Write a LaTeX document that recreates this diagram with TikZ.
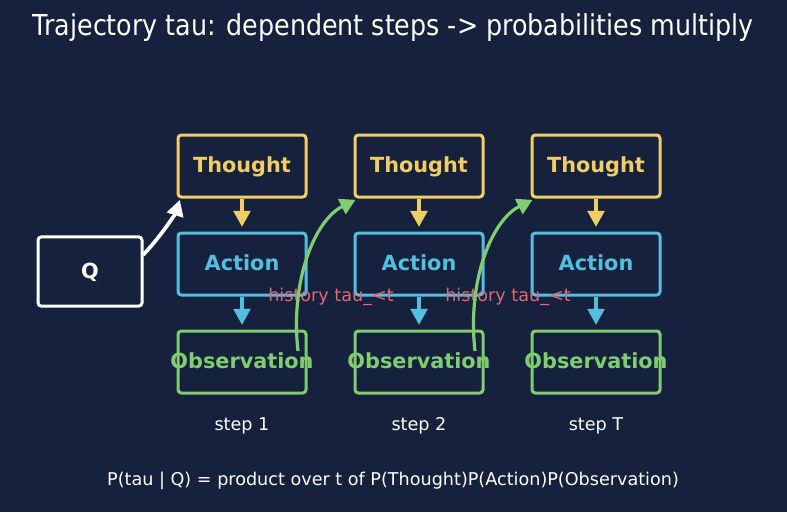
\documentclass[tikz,border=0pt]{standalone}
\usepackage{fontspec}
\setmainfont{DejaVu Sans}
\usetikzlibrary{arrows.meta}
\definecolor{bgnavy}{RGB}{22,33,62}
\definecolor{thoughtc}{RGB}{240,206,100}
\definecolor{actionc}{RGB}{84,190,222}
\definecolor{obsc}{RGB}{128,204,112}
\definecolor{histc}{RGB}{226,104,112}
\tikzset{
  stepbox/.style={line width=2.25pt, rounded corners=2.5pt, fill=bgnavy,
    minimum width=96pt, minimum height=46.5pt, inner xsep=-15pt, inner ysep=0pt,
    text height=11.4pt, text depth=1.2pt,
    font=\fontsize{15.6}{18}\selectfont\bfseries},
  thoughtbox/.style={stepbox, draw=thoughtc, text=thoughtc},
  actionbox/.style={stepbox, draw=actionc, text=actionc},
  obsbox/.style={stepbox, draw=obsc, text=obsc},
  flow/.style={line width=2.6pt, shorten >=3.5pt, -{Triangle[width=12.5pt,length=12pt]}},
  hist/.style={line width=2.4pt, -{Triangle[width=12.5pt,length=11.5pt]}, obsc}
}
\begin{document}
\begin{tikzpicture}[x=0.75pt, y=-0.75pt]
\fill[bgnavy] (0,0) rectangle (787,512);
\useasboundingbox (0,0) rectangle (787,512);
\node[white, font=\fontsize{21.6}{26}\selectfont] (title) at (393,28)
  {\scalebox{0.88}[1]{Trajectory tau: dependent steps -> probabilities multiply}};
% query
\node[stepbox, draw=white, text=white, minimum width=78pt, minimum height=52pt] (q) at (90,271.5) {Q};
% step 1
\node[thoughtbox] (t1) at (242,166) {Thought};
\node[actionbox] (a1) at (242,264) {Action};
\node[obsbox] (o1) at (242,362) {Observation};
% step 2
\node[thoughtbox] (t2) at (419,166) {Thought};
\node[actionbox] (a2) at (419,264) {Action};
\node[obsbox] (o2) at (419,362) {Observation};
% step T
\node[thoughtbox] (t3) at (596,166) {Thought};
\node[actionbox] (a3) at (596,264) {Action};
\node[obsbox] (o3) at (596,362) {Observation};
\draw[flow, thoughtc] (t1) -- (a1);
\draw[flow, actionc] (a1) -- (o1);
\draw[flow, thoughtc] (t2) -- (a2);
\draw[flow, actionc] (a2) -- (o2);
\draw[flow, thoughtc] (t3) -- (a3);
\draw[flow, actionc] (a3) -- (o3);
\node[histc, font=\fontsize{13.2}{15}\selectfont] (h1) at (331,297) {history tau\_<t};
\node[histc, font=\fontsize{13.2}{15}\selectfont] (h2) at (508,297) {history tau\_<t};
\coordinate (c1) at (298,351);
\coordinate (c2) at (475,351);
\coordinate (qs) at (143,255);
\draw[flow, white, line width=2.8pt, shorten >=0pt] (qs) .. controls (163,234) and (176,212) .. ([xshift=2.5pt,yshift=-1pt]t1.south west);
\draw[hist] (c1) .. controls (290,280) and (315,220) .. ([xshift=1.5pt,yshift=-1pt]t2.south west);
\draw[hist] (c2) .. controls (467,280) and (492,220) .. ([xshift=1.5pt,yshift=-1pt]t3.south west);
\node[white, font=\fontsize{13.2}{15}\selectfont] (s1) at (242,426) {step 1};
\node[white, font=\fontsize{13.2}{15}\selectfont] (s2) at (419,426) {step 2};
\node[white, font=\fontsize{13.2}{15}\selectfont] (s3) at (596,426) {step T};
\node[white, font=\fontsize{13.2}{15}\selectfont] (formula) at (393,481)
  {P(tau | Q) = product over t of P(Thought)P(Action)P(Observation)};
\end{tikzpicture}
\end{document}
